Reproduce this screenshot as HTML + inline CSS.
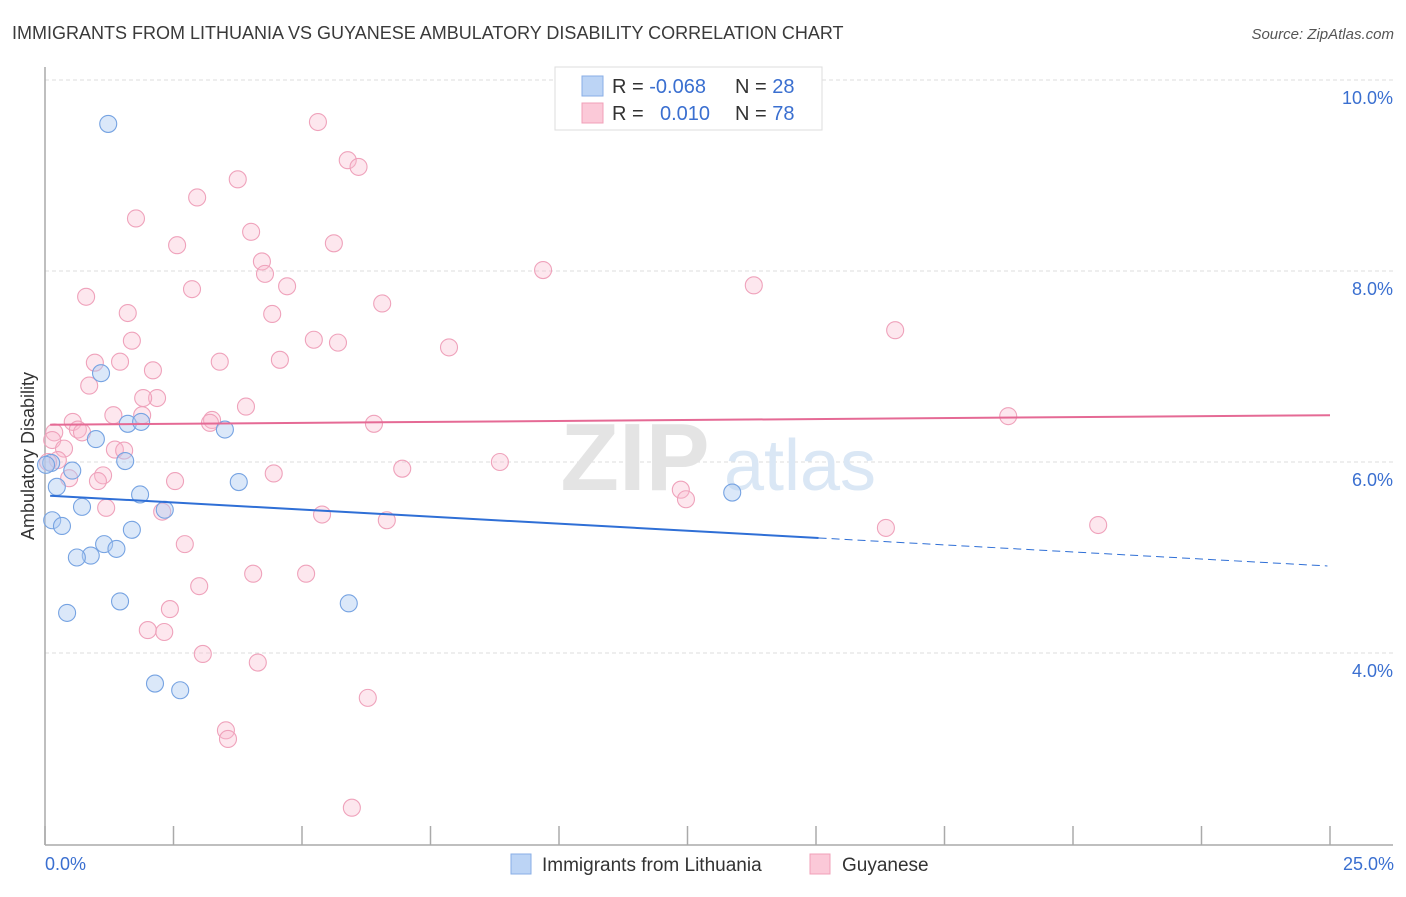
<!DOCTYPE html>
<html><head><meta charset="utf-8"><style>
body{margin:0;background:#fff;font-family:"Liberation Sans",sans-serif;}
svg text{font-family:"Liberation Sans",sans-serif;}
</style></head><body>
<svg id="chart" width="1406" height="892" xmlns="http://www.w3.org/2000/svg">
<text x="12" y="39" font-size="18" fill="#3a3a3a">IMMIGRANTS FROM LITHUANIA VS GUYANESE AMBULATORY DISABILITY CORRELATION CHART</text>
<text x="1394" y="39" font-size="15" fill="#555" text-anchor="end" font-style="italic">Source: ZipAtlas.com</text>
<g id="grid"></g>
<g>
<text x="635" y="490" font-size="96" fill="#e4e4e4" text-anchor="middle" font-family="Liberation Serif" font-weight="bold">ZIP</text>
<text x="800" y="490" font-size="72" fill="#dae7f5" text-anchor="middle">atlas</text>
</g>
<line x1="45" y1="67" x2="45" y2="845" stroke="#aaa" stroke-width="1.5"/>
<line x1="45" y1="845" x2="1393" y2="845" stroke="#aaa" stroke-width="1.5"/>
<g id="xticks"></g>
<g id="yticks"></g>
<text transform="translate(34,456) rotate(-90)" font-size="18" fill="#333" text-anchor="middle">Ambulatory Disability</text>
<text x="45" y="870" font-size="18" fill="#3a6fd0">0.0%</text>
<text x="1394" y="870" font-size="18" fill="#3a6fd0" text-anchor="end">25.0%</text>
<g id="pink"></g>
<g id="blue"></g>
<g id="trends"></g>
<g>
<rect x="555" y="67" width="267" height="63" fill="#fff" stroke="#ddd"/>
<rect x="582" y="76" width="21" height="20" fill="#bcd4f5" stroke="#88aee6"/>
<rect x="582" y="103" width="21" height="20" fill="#fbc9d8" stroke="#f0a0b8"/>
<text x="612" y="93" font-size="20" fill="#333">R = <tspan fill="#3a6fd0">-0.068</tspan></text>
<text x="735" y="93" font-size="20" fill="#333">N = <tspan fill="#3a6fd0">28</tspan></text>
<text x="612" y="120" font-size="20" fill="#333">R = <tspan fill="#3a6fd0" x="660">0.010</tspan></text>
<text x="735" y="120" font-size="20" fill="#333">N = <tspan fill="#3a6fd0">78</tspan></text>
</g>
<g>
<rect x="511" y="854" width="20" height="20" fill="#bcd4f5" stroke="#88aee6"/>
<text x="542" y="871" font-size="19" fill="#333">Immigrants from Lithuania</text>
<rect x="810" y="854" width="20" height="20" fill="#fbc9d8" stroke="#f0a0b8"/>
<text x="842" y="871" font-size="19" fill="#333">Guyanese</text>
</g>
</svg>
<script>
const yTicks=[4,6,8,10];
const yTickLabels=["4.0%","6.0%","8.0%","10.0%"];
const xTicks=[0,2.5,5,7.5,10,12.5,15,17.5,20,22.5,25];
const blueX=[1.23,1.09,0.99,1.61,1.87,3.50,1.56,0.53,0.23,0.12,1.85,3.77,0.72,2.33,0.14,0.33,1.69,1.15,1.39,0.89,0.62,1.46,0.43,5.91,2.14,2.63,13.37,0.02];
const blueY=[9.54,6.93,6.24,6.40,6.42,6.34,6.01,5.91,5.74,5.99,5.66,5.79,5.53,5.50,5.39,5.33,5.29,5.14,5.09,5.02,5.00,4.54,4.42,4.52,3.68,3.61,5.68,5.97];
const pinkX=[5.31,5.89,6.10,3.75,2.96,1.77,4.01,5.62,2.57,4.22,4.28,9.69,4.71,2.86,13.79,0.80,6.56,1.61,4.42,16.54,1.69,5.23,5.70,7.86,3.40,4.57,0.97,1.46,2.10,0.86,2.18,1.91,3.91,1.33,1.89,0.54,3.25,3.21,6.40,18.74,0.64,0.72,0.18,0.14,0.37,1.36,1.54,0.25,8.85,6.95,4.45,1.13,0.47,1.03,2.53,12.37,12.47,1.19,2.28,5.39,6.65,16.36,20.49,2.72,4.05,5.08,3.00,2.43,2.00,2.32,3.07,4.14,6.28,3.52,3.56,5.97,0.06];
const pinkY=[9.56,9.16,9.09,8.96,8.77,8.55,8.41,8.29,8.27,8.10,7.97,8.01,7.84,7.81,7.85,7.73,7.66,7.56,7.55,7.38,7.27,7.28,7.25,7.20,7.05,7.07,7.04,7.05,6.96,6.80,6.67,6.67,6.58,6.49,6.49,6.42,6.44,6.41,6.40,6.48,6.34,6.31,6.31,6.23,6.14,6.13,6.12,6.02,6.00,5.93,5.88,5.86,5.83,5.80,5.80,5.71,5.61,5.52,5.48,5.45,5.39,5.31,5.34,5.14,4.83,4.83,4.70,4.46,4.24,4.22,3.99,3.90,3.53,3.19,3.10,2.38,6.00];
const blueTrend=[5.65,4.91];
const pinkTrend=[6.39,6.49];
const NS="http://www.w3.org/2000/svg";
const X=v=>45+v/25*1285;
const Y=v=>80+(10-v)*95.5;
function mk(t,a,p){const e=document.createElementNS(NS,t);for(const k in a)e.setAttribute(k,a[k]);p.appendChild(e);return e;}
const grid=document.getElementById('grid'),yt=document.getElementById('yticks');
yTicks.forEach((v,i)=>{
 const l=mk('line',{x1:45,x2:1393,y1:Y(v),y2:Y(v),stroke:'#ddd','stroke-dasharray':'4,3'},grid);
 
 
 const t=mk('text',{x:1393,y:Y(v)+24,'font-size':18,fill:'#3a6fd0','text-anchor':'end'},yt);
 t.textContent=yTickLabels[i];
 
 
});
const xt=document.getElementById('xticks');
xTicks.forEach(v=>{
 const l=mk('line',{x1:X(v),x2:X(v),y1:826,y2:845,stroke:'#aaa','stroke-width':1.5},xt);
 
 
});
function pts(xs,ys,g,fill,stroke,name){xs.forEach((x,i)=>{
 const c=mk('circle',{cx:X(x),cy:Y(ys[i]),r:8.5,fill:fill,stroke:stroke,'stroke-width':1.1},document.getElementById(g));
 
 
});}
pts(pinkX,pinkY,'pink','rgba(248,185,205,0.35)','#efa2bb','guyanese-point');
pts(blueX,blueY,'blue','rgba(175,205,242,0.45)','#76a3e2','lithuania-point');
const tr=document.getElementById('trends');
const bAt=v=>blueTrend[0]+(blueTrend[1]-blueTrend[0])*v/25;
let l1=mk('line',{x1:X(0.1),y1:Y(bAt(0.1)),x2:X(15.05),y2:Y(bAt(15.05)),stroke:'#2f6fd6','stroke-width':2},tr);


let l2=mk('line',{x1:X(15.05),y1:Y(bAt(15.05)),x2:X(24.95),y2:Y(bAt(24.95)),stroke:'#2f6fd6','stroke-width':1,'stroke-dasharray':'8,5'},tr);


let l3=mk('line',{x1:X(0.1),y1:Y(pinkTrend[0]),x2:X(25),y2:Y(pinkTrend[1]),stroke:'#e56a95','stroke-width':2},tr);


</script>
</body></html>
